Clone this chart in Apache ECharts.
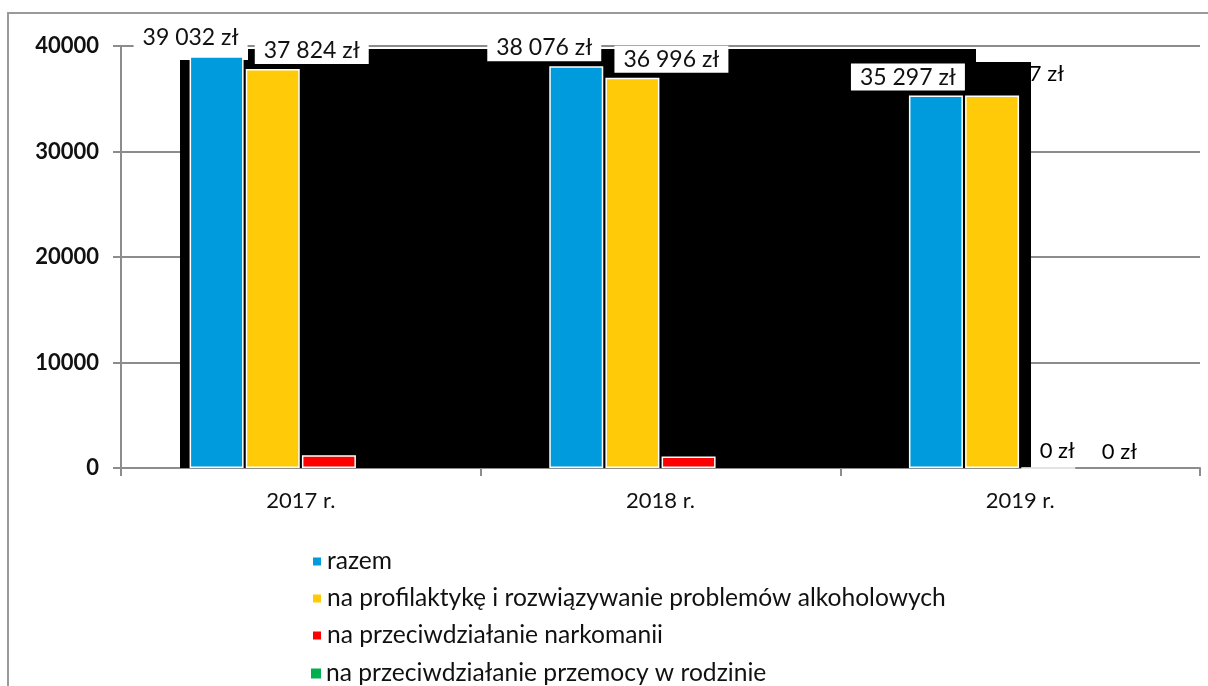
<!DOCTYPE html>
<html>
<head>
<meta charset="utf-8">
<script src="https://cdn.jsdelivr.net/npm/echarts@6/dist/echarts.min.js"></script>
<style>
  html, body { margin: 0; padding: 0; background: #fff; }
  #chart { width: 1208px; height: 686px; }
</style>
</head>
<body>
<div id="chart"></div>
<script>
var years = ['2017 r.', '2018 r.', '2019 r.']
var razem = [39032, 38076, 35297]
var alkohol = [37824, 36996, 35297]
var narkomania = [1208, 1080, 0]
var przemoc = [0, 0, 0]
var yTicks = [0, 10000, 20000, 30000, 40000]
var seriesNames = ['razem', 'na profilaktykę i rozwiązywanie problemów alkoholowych',
  'na przeciwdziałanie narkomanii', 'na przeciwdziałanie przemocy w rodzinie']

var fontName = 'Lato'

function zl(v) {
  return String(v).replace(/\B(?=(\d{3})+(?!\d))/g, ' ') + ' zł'
}

var boxLabel = {
  show: true,
  position: 'top',
  color: '#111',
  fontFamily: fontName,
  fontSize: 23,
  backgroundColor: '#fff',
  padding: [2, 9],
  formatter: function (p) { return zl(p.value) }
}
var plainLabel = {
  show: true,
  position: 'top',
  color: '#000',
  fontFamily: fontName,
  fontSize: 22,
  formatter: function (p) { return zl(p.value) }
}

// per-bar label offsets (the original labels were moved by hand)
var razemOffsets = [[-26, 0], [-32, 0], [-28, 0]]
var alkoholOffsets = [[39, 0], [39, 0], [26, -6]]

function withLabels(values, offsets, noBoxAt) {
  return values.map(function (v, i) {
    var lab = Object.assign({}, i === noBoxAt ? plainLabel : boxLabel, { offset: offsets[i] })
    return { value: v, label: lab }
  })
}

var chart = echarts.init(document.getElementById('chart'))

var barBase = {
  type: 'bar',
  barWidth: 54,
  barGap: '4%',
  itemStyle: { borderColor: '#fff', borderWidth: 1.5 }
}

var legendBase = {
  orient: 'vertical',
  left: 306,
  itemWidth: 10,
  itemHeight: 10,
  itemGap: 12,
  icon: 'rect',
  textStyle: { fontSize: 24.6, color: '#111', fontFamily: fontName }
}

var option = {
  animation: false,
  textStyle: { fontFamily: fontName },
  graphic: [
    { type: 'rect', z: 0, shape: { x: 8, y: 13, width: 1230, height: 700 },
      style: { fill: 'none', stroke: '#9a9a9a', lineWidth: 2 } },
    // dark block behind the bars, as in the source picture
    { type: 'rect', z: 1, shape: { x: 180, y: 60, width: 70, height: 408 }, style: { fill: '#000' } },
    { type: 'rect', z: 1, shape: { x: 248, y: 49, width: 728, height: 419 }, style: { fill: '#000' } },
    { type: 'rect', z: 1, shape: { x: 976, y: 62, width: 55, height: 406 }, style: { fill: '#000' } }
  ],
  grid: { left: 121, right: 8, top: 46, bottom: 218, containLabel: false },
  legend: [
    Object.assign({}, legendBase, { top: 544, data: seriesNames.slice(0, 3) }),
    Object.assign({}, legendBase, { top: 656, data: seriesNames.slice(3) })
  ],
  xAxis: {
    type: 'category',
    data: years,
    axisLine: { lineStyle: { color: '#8c8c8c', width: 2 } },
    axisTick: { show: true, length: 8, lineStyle: { color: '#8c8c8c', width: 2 } },
    axisLabel: { color: '#111', fontSize: 22, margin: 22, fontFamily: fontName }
  },
  yAxis: {
    type: 'value',
    min: yTicks[0],
    max: yTicks[yTicks.length - 1],
    interval: 10000,
    axisLine: { show: true, lineStyle: { color: '#8c8c8c', width: 2 } },
    axisTick: { show: true, length: 8, lineStyle: { color: '#8c8c8c', width: 2 } },
    axisLabel: { color: '#111', fontSize: 22, fontWeight: 'bold', margin: 22, fontFamily: fontName,
      formatter: function (v) { return String(v) } },
    splitLine: { show: true, lineStyle: { color: '#8c8c8c', width: 2 } }
  },
  series: [
    Object.assign({}, barBase, {
      name: seriesNames[0], color: '#009bdd',
      data: withLabels(razem, razemOffsets, -1)
    }),
    Object.assign({}, barBase, {
      name: seriesNames[1], color: '#ffca08',
      data: withLabels(alkohol, alkoholOffsets, 2)
    }),
    Object.assign({}, barBase, {
      name: seriesNames[2], color: '#ff0000',
      label: Object.assign({}, plainLabel, { offset: [9, 0] }),
      data: narkomania
    }),
    Object.assign({}, barBase, {
      name: seriesNames[3], color: '#00b050',
      itemStyle: { borderWidth: 0 },
      label: Object.assign({}, plainLabel, { offset: [15, 0] }),
      data: przemoc
    })
  ]
}
chart.setOption(option)
</script>
</body>
</html>
